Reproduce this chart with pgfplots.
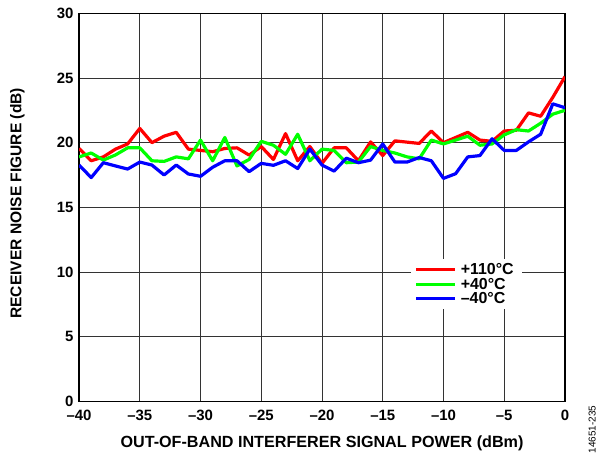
\documentclass[border=0pt]{standalone}
\usepackage{fontspec}
\setmainfont{Liberation Sans}
\usepackage{pgfplots}
\pgfplotsset{compat=1.18}
\usepackage{pgfplotstable}
\pgfplotstableread{
x red green blue
-40 19.55 18.9 18.27
-39 18.6 19.2 17.3
-38 18.9 18.65 18.45
-37 19.5 19.05 18.2
-36 19.9 19.6 17.96
-35 21.1 19.6 18.5
-34 20.0 18.6 18.27
-33 20.5 18.55 17.5
-32 20.8 18.9 18.27
-31 19.5 18.75 17.58
-30 19.4 20.2 17.4
-29 19.3 18.6 18.1
-28 19.55 20.4 18.6
-27 19.6 18.2 18.6
-26 19.04 18.7 17.76
-25 19.7 20.1 18.4
-24 18.7 19.8 18.25
-23 20.7 19.1 18.6
-22 18.6 20.65 18.0
-21 19.7 18.6 19.5
-20 18.4 19.5 18.27
-19 19.6 19.4 17.8
-18 19.6 18.45 18.8
-17 18.6 18.5 18.45
-16 20.06 19.7 18.65
-15 19.0 19.4 19.9
-14 20.14 19.2 18.5
-13 20.04 18.9 18.5
-12 19.94 18.75 18.85
-11 20.9 20.2 18.6
-10 20.0 19.9 17.24
-9 20.4 20.2 17.6
-8 20.8 20.5 18.9
-7 20.2 19.8 19.0
-6 20.1 19.9 20.3
-5 20.9 20.6 19.4
-4 20.96 21.0 19.4
-3 22.3 20.9 20.06
-2 22.04 21.5 20.65
-1 23.5 22.2 23.0
0 25.1 22.5 22.7
}\datatable
\begin{document}
\begin{tikzpicture}
\begin{axis}[
  at={(0,0)}, anchor=south west,
  scale only axis,
  width=487.4bp, height=389.4bp,
  xmin=-40, xmax=0, ymin=0, ymax=30,
  xtick={-40,-35,...,0},
  xticklabels={–40,–35,–30,–25,–20,–15,–10,–5,0},
  ytick={0,5,...,30},
  /pgf/number format/assume math mode=true,
  major tick length=0pt,
  grid=major,
  grid style={black!80, line width=0.9bp},
  axis line style={black, line width=1.3bp},
  tick label style={font=\fontsize{15bp}{17bp}\selectfont\bfseries},
  xticklabel style={yshift=-5bp},
  yticklabel style={xshift=-2bp},
  xlabel={OUT-OF-BAND INTERFERER SIGNAL POWER (dBm)},
  ylabel={RECEIVER NOISE FIGURE (dB)},
  every axis x label/.style={at={(axis description cs:0.5,-0.108)}, anchor=center,
    font=\fontsize{16.2bp}{18bp}\selectfont\bfseries},
  every axis y label/.style={at={(axis description cs:-0.1268,0.5103)}, anchor=center, rotate=90,
    font=\fontsize{15.6bp}{18bp}\selectfont\bfseries},
  legend style={at={(axis description cs:0.6826,0.3665)}, anchor=north west,
    draw=none, fill=white, font=\fontsize{16bp}{18bp}\selectfont\bfseries,
    inner xsep=4bp, inner ysep=2bp, row sep=-2bp,
    nodes={inner xsep=4bp}},
  legend cell align=left,
  legend image code/.code={\draw[#1, line width=3bp] (0bp,0bp) -- (39bp,0bp);},
  every axis plot/.append style={line width=3.2bp, line join=round},
]
\addplot[red, mark=none] table[x=x, y=red] {\datatable};
\addlegendentry{+110°C}
\addplot[green, mark=none] table[x=x, y=green] {\datatable};
\addlegendentry{+40°C}
\addplot[blue, mark=none] table[x=x, y=blue] {\datatable};
\addlegendentry{–40°C}
\end{axis}
\node[rotate=90, font=\fontsize{10bp}{12bp}\selectfont] at (514.7bp,-28.3bp) {14651-235};
\path[use as bounding box] (-79.3bp,-53.3bp) rectangle (519.7bp,402.7bp);
\end{tikzpicture}
\end{document}
